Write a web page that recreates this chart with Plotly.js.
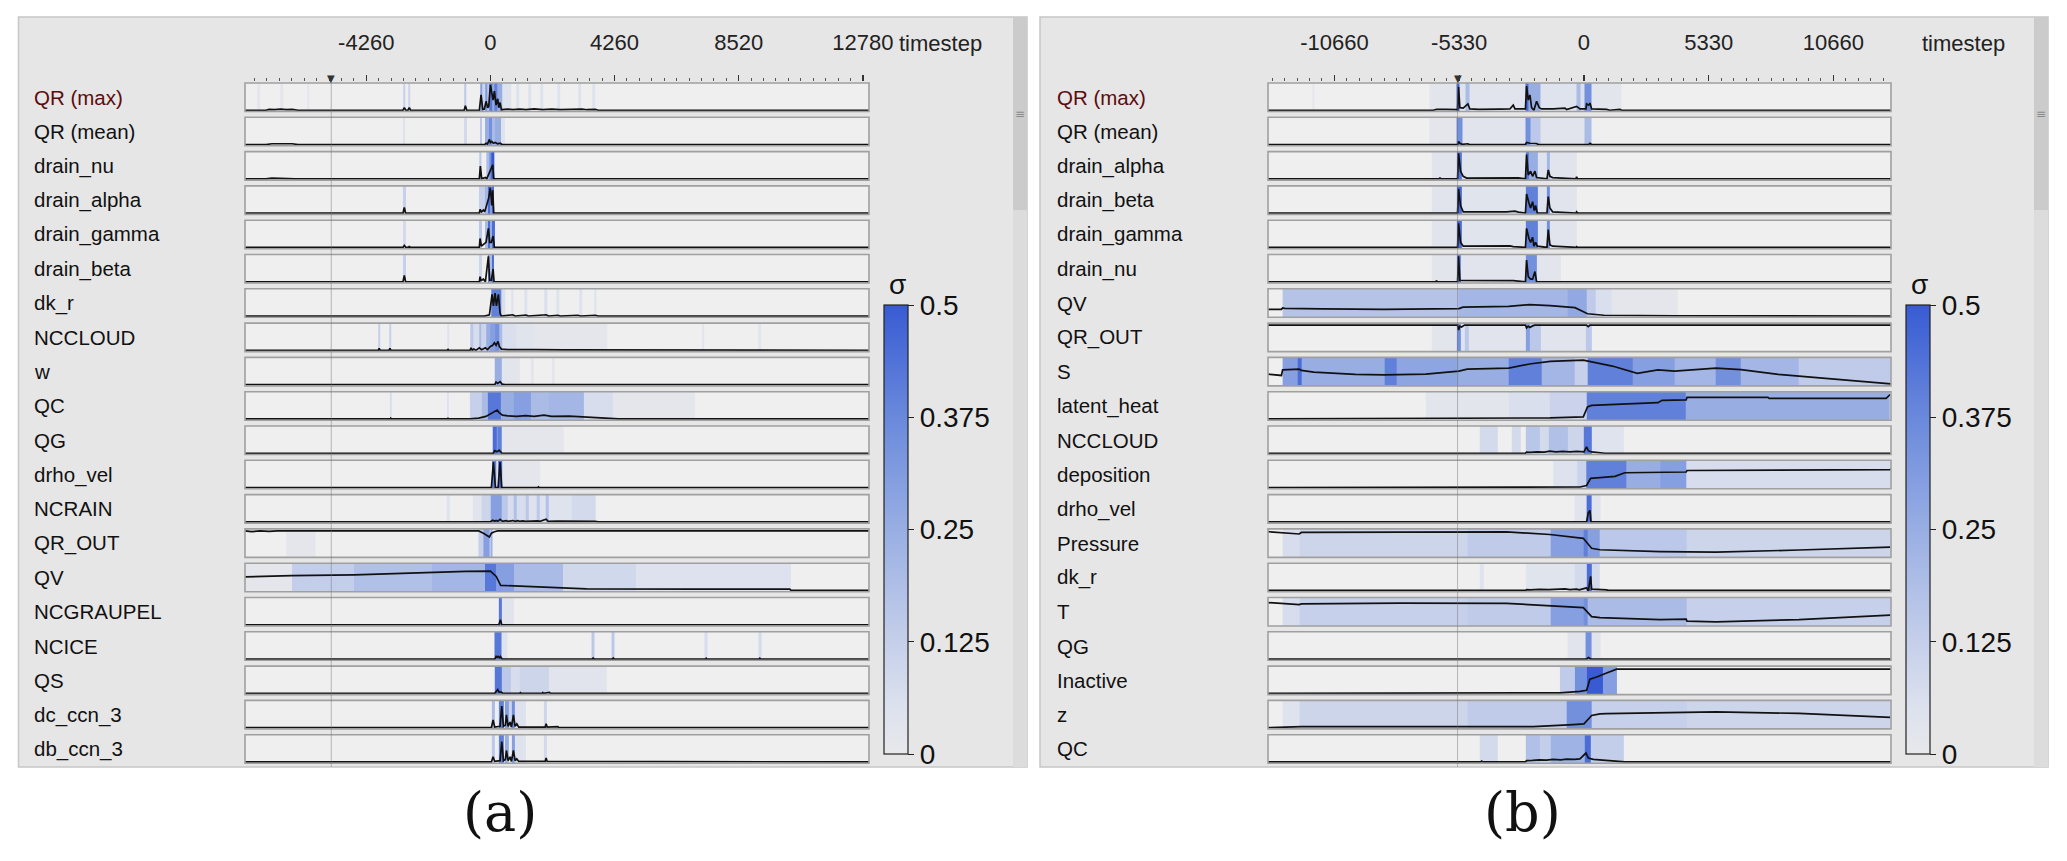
<!DOCTYPE html>
<html>
<head>
<meta charset="utf-8">
<script src="https://cdn.plot.ly/plotly-3.0.1.min.js"></script>
<style>
  html, body { margin: 0; padding: 0; background: #fff; }
  #plot { width: 2067px; height: 861px; }
</style>
</head>
<body>
<div id="plot"></div>
<script>
// ---- data ----
// row labels, top to bottom
const labelsA = ['QR (max)', 'QR (mean)', 'drain_nu', 'drain_alpha', 'drain_gamma', 'drain_beta', 'dk_r',
  'NCCLOUD', 'w', 'QC', 'QG', 'drho_vel', 'NCRAIN', 'QR_OUT', 'QV', 'NCGRAUPEL', 'NCICE', 'QS',
  'dc_ccn_3', 'db_ccn_3'];
const labelsB = ['QR (max)', 'QR (mean)', 'drain_alpha', 'drain_beta', 'drain_gamma', 'drain_nu', 'QV',
  'QR_OUT', 'S', 'latent_heat', 'NCCLOUD', 'deposition', 'drho_vel', 'Pressure', 'dk_r', 'T', 'QG',
  'Inactive', 'z', 'QC'];

// timestep axis
const ticksA = [-4260, 0, 4260, 8520, 12780];
const ticksB = [-10660, -5330, 0, 5330, 10660];
const rangeA = [-8420, 12990];
const rangeB = [-13500, 13120];
const cursorA = -5460;
const cursorB = -5400;
const sigmaTicks = [0, 0.125, 0.25, 0.375, 0.5];

// lines: [timestep, relative value 0..1] per row
const linesA = [
  // QR (max)
  [[-8420,0],[-7700,0],[-7600,0.03],[-7400,0.02],[-7200,0.04],[-7000,0.02],[-6800,0.03],[-6600,0],[-3000,0],[-2954,0.1],[-2900,0],[-2830,0],[-2782,0.1],[-2740,0],[-900,0],[-859,0.18],[-810,0],[-380,0],[-321,0.6],[-263,0.03],[-206,0.05],[-149,0.35],[-92,0.1],[-57,0.15],[0,1.0],[46,0.75],[92,0.4],[137,0.75],[195,0.2],[252,0.45],[286,0.1],[332,0.3],[378,0.02],[600,0.04],[767,0.02],[1000,0.04],[1225,0.02],[1500,0.05],[1800,0.02],[2100,0.04],[2400,0.02],[3150,0.04],[3300,0.02],[3600,0.03],[3700,0],[12990,0]],
  // QR (mean)
  [[-8420,0],[-7700,0],[-7500,0.03],[-7200,0.03],[-6800,0.03],[-6600,0],[-2960,0],[-2954,0.02],[-2900,0],[-200,0],[-149,0.05],[-100,0.02],[-34,0.2],[0,0.08],[46,0.12],[100,0.05],[160,0.08],[250,0.03],[332,0.05],[400,0],[12990,0]],
  // drain_nu
  [[-8420,0],[-7700,0],[-7500,0.03],[-7300,0.02],[-7100,0.03],[-6700,0],[-380,0],[-344,0.5],[-300,0],[-172,0.05],[-126,0],[-34,0.25],[80,0.55],[115,0],[12990,0]],
  // drain_alpha
  [[-8420,0],[-7600,0],[-7400,0.02],[-7000,0.02],[-6800,0],[-3000,0],[-2954,0.22],[-2910,0],[-380,0],[-355,0.15],[-309,0.05],[-240,0.12],[-195,0.05],[-126,0.3],[-57,0.6],[0,1.0],[46,0.3],[80,0.9],[115,0],[12990,0]],
  // drain_gamma
  [[-8420,0],[-7500,0],[-7300,0.02],[-6900,0.02],[-6700,0],[-3000,0],[-2954,0.08],[-2900,0],[-2800,0],[-2782,0.05],[-2750,0],[-380,0],[-355,0.35],[-309,0.05],[-206,0.15],[-149,0.2],[-69,0.75],[-23,0.2],[34,0.2],[92,0.45],[137,0],[12990,0]],
  // drain_beta
  [[-8420,0],[-7500,0],[-7300,0.02],[-6900,0.02],[-6700,0],[-3000,0],[-2954,0.25],[-2910,0],[-380,0],[-355,0.2],[-321,0.05],[-240,0.1],[-172,0],[-69,1.0],[-23,0.05],[34,0.05],[92,0.5],[126,0],[12990,0]],
  // dk_r
  [[-8420,0],[-200,0],[-34,0.05],[57,0.85],[103,0.4],[160,0.9],[206,0.4],[275,0.85],[332,0.1],[378,0],[767,0.05],[850,0],[1225,0.04],[1300,0],[1912,0.05],[2000,0],[2313,0.03],[2400,0],[3000,0.03],[3100,0],[3600,0.03],[3700,0],[12990,0]],
  // NCCLOUD
  [[-8420,0],[-3850,0],[-3817,0.08],[-3780,0],[-3480,0],[-3449,0.08],[-3410,0],[-1480,0],[-1456,0.05],[-1430,0],[-700,0],[-664,0.1],[-620,0],[-573,0.05],[-500,0],[-378,0.1],[-300,0.02],[-172,0.1],[-100,0.03],[0,0.15],[80,0.2],[137,0.3],[195,0.2],[263,0.35],[309,0.15],[378,0.05],[600,0.03],[1000,0.02],[1500,0.03],[2500,0.02],[4000,0.02],[4100,0],[7300,0],[7312,0.02],[7350,0],[9200,0],[9244,0.02],[9280,0],[12990,0]],
  // w
  [[-8420,0],[150,0],[195,0.1],[252,0.05],[332,0.12],[400,0.02],[500,0],[12990,0]],
  // QC
  [[-8420,0],[-3440,0],[-3419,0.03],[-3400,0],[-1470,0],[-1456,0.02],[-1440,0],[-690,0],[-400,0.03],[-153,0.1],[0,0.2],[150,0.3],[230,0.35],[300,0.25],[414,0.15],[600,0.12],[900,0.1],[1200,0.13],[1500,0.1],[1840,0.15],[2100,0.1],[2700,0.11],[3143,0.08],[3500,0.04],[4139,0.02],[4400,0],[12990,0]],
  // QG
  [[-8420,0],[100,0],[150,0.1],[230,0.06],[300,0.12],[400,0],[12990,0]],
  // drho_vel
  [[-8420,0],[34,0],[103,1.0],[172,0],[263,0],[332,1.0],[389,0],[1620,0],[1649,0.03],[1680,0],[12990,0]],
  // NCRAIN
  [[-8420,0],[-1500,0],[-1456,0.02],[-1400,0],[0,0],[80,0.06],[150,0.02],[195,0.05],[250,0.02],[332,0.1],[420,0.02],[538,0.05],[600,0.02],[767,0.05],[850,0.02],[939,0.05],[1000,0.02],[1111,0.04],[1200,0.02],[1626,0.04],[1700,0.02],[1912,0.1],[1980,0.02],[2313,0.03],[3000,0.03],[3600,0.02],[3700,0],[12990,0]],
  // QR_OUT
  [[-8420,0.99],[-8200,0.96],[-7900,0.99],[-7600,0.97],[-7300,0.99],[-6800,0.99],[-400,0.99],[-240,0.9],[-34,0.75],[34,0.9],[137,0.96],[250,0.99],[12990,0.99]],
  // QV
  [[-8420,0.53],[-6822,0.58],[-4676,0.61],[-3143,0.67],[-2070,0.7],[-843,0.75],[0,0.76],[199,0.55],[353,0.2],[1763,0.14],[3296,0.06],[7128,0.05],[10271,0.05],[10317,0.0],[12990,0]],
  // NCGRAUPEL
  [[-8420,0],[290,0],[343,0.2],[390,0],[12990,0]],
  // NCICE
  [[-8420,0],[150,0],[195,0.1],[240,0.05],[252,0.12],[310,0.05],[343,0.1],[400,0],[3500,0],[3526,0.04],[3560,0],[4190,0],[4216,0.04],[4250,0],[7380,0],[7404,0.03],[7430,0],[9220,0],[9244,0.03],[9270,0],[12990,0]],
  // QS
  [[-8420,0],[150,0],[252,0.15],[300,0.05],[378,0.05],[420,0],[1000,0],[1030,0.03],[1060,0],[1780,0],[1798,0.03],[1820,0],[2027,0.04],[2060,0],[12990,0]],
  // dc_ccn_3
  [[-8420,0],[34,0],[92,0.3],[149,0.02],[332,0.05],[389,0.85],[447,0.05],[515,0.1],[550,0.5],[607,0.05],[676,0.22],[721,0.02],[790,0.5],[847,0.05],[905,0.15],[973,0.02],[1878,0.02],[1912,0.15],[1947,0.02],[2280,0.02],[2313,0.04],[2350,0],[12990,0]],
  // db_ccn_3
  [[-8420,0],[34,0],[92,0.2],[149,0.02],[332,0.05],[389,0.8],[447,0.05],[515,0.1],[550,0.45],[607,0.05],[676,0.2],[721,0.02],[790,0.45],[847,0.05],[905,0.12],[973,0.02],[1878,0.02],[1912,0.15],[1947,0.02],[12990,0]]
];

// sigma bands: [from timestep, to timestep, sigma] per row
const sigmaA = [
  [[-8000,-7900,0.015],[-7200,-7100,0.015],[-6300,-6200,0.015],[-3000,-2920,0.12],[-2830,-2740,0.1],[-900,-820,0.15],[-360,-280,0.3],[-280,-170,0.1],[-170,-110,0.32],[-110,-30,0.15],[-30,60,0.42],[60,130,0.25],[130,220,0.4],[220,400,0.25],[400,700,0.04],[900,1000,0.05],[1300,1400,0.05],[1700,1800,0.04],[2300,2400,0.04],[3000,3100,0.05],[3500,3600,0.04]],
  [[-3000,-2920,0.05],[-900,-820,0.08],[-360,-280,0.15],[-170,-60,0.25],[-60,60,0.35],[60,150,0.2],[150,350,0.25],[350,500,0.04]],
  [[-380,-310,0.15],[-150,-30,0.2],[-30,40,0.35],[40,120,0.5]],
  [[-3000,-2910,0.12],[-380,-200,0.12],[-200,-100,0.22],[-100,-10,0.45],[-10,50,0.3],[50,120,0.45]],
  [[-3000,-2910,0.08],[-380,-300,0.15],[-200,-100,0.2],[-100,0,0.45],[0,60,0.25],[60,140,0.45]],
  [[-3000,-2910,0.12],[-380,-300,0.1],[-100,-40,0.4],[-40,60,0.2],[60,130,0.45]],
  [[30,380,0.4],[380,500,0.06],[700,800,0.05],[1150,1250,0.05],[1850,1950,0.06],[2250,2350,0.04],[3050,3150,0.05],[3550,3650,0.05]],
  [[-3850,-3780,0.12],[-3480,-3410,0.12],[-1480,-1430,0.05],[-700,-600,0.15],[-600,-380,0.07],[-380,-300,0.2],[-300,-150,0.1],[-150,0,0.25],[0,150,0.3],[150,300,0.35],[300,400,0.2],[400,900,0.06],[900,1500,0.035],[1500,4000,0.015],[7250,7350,0.025],[9200,9300,0.025]],
  [[150,380,0.25],[380,1000,0.025],[1400,1500,0.02],[2100,2200,0.02]],
  [[-3450,-3390,0.06],[-1480,-1430,0.05],[-690,-300,0.12],[-300,-100,0.2],[-100,350,0.42],[350,800,0.25],[800,1400,0.3],[1400,2000,0.2],[2000,3200,0.22],[3200,4200,0.07],[4200,7000,0.02]],
  [[80,200,0.45],[200,260,0.3],[260,400,0.4],[400,2500,0.015]],
  [[60,180,0.4],[180,260,0.05],[260,400,0.45],[400,1700,0.015]],
  [[-1500,-1400,0.04],[-600,-300,0.03],[-300,0,0.1],[0,380,0.3],[380,600,0.15],[600,800,0.07],[800,900,0.18],[900,1200,0.07],[1200,1300,0.15],[1300,1600,0.05],[1600,1700,0.15],[1700,1900,0.05],[1900,2000,0.18],[2000,2800,0.04],[2800,3600,0.08]],
  [[-7000,-6000,0.02],[-400,-250,0.12],[-250,-50,0.3],[-50,20,0.15],[20,80,0.3]],
  [[-8420,-6822,0.02],[-6822,-4676,0.13],[-4676,-2000,0.18],[-2000,-200,0.22],[-200,200,0.42],[200,800,0.3],[800,2500,0.2],[2500,5000,0.09],[5000,10300,0.05]],
  [[290,400,0.42],[400,800,0.03]],
  [[140,380,0.42],[380,600,0.04],[3480,3570,0.15],[4170,4260,0.15],[7360,7450,0.07],[9200,9290,0.08]],
  [[150,380,0.42],[380,700,0.15],[700,1000,0.07],[1000,2000,0.1],[2000,4000,0.03]],
  [[50,140,0.2],[300,450,0.4],[500,620,0.3],[620,740,0.1],[740,850,0.35],[850,1200,0.05],[1850,1950,0.1]],
  [[50,140,0.15],[300,450,0.4],[500,620,0.25],[740,850,0.3],[850,1200,0.04],[1850,1950,0.08]]
];

const linesB = [
  // QR (max)
  [[-13500,0],[-6441,0],[-6300,0.03],[-6100,0.02],[-5900,0.03],[-5400,0.02],[-5358,0.92],[-5301,0.1],[-5159,0.08],[-4959,0.25],[-4874,0.05],[-4500,0.03],[-4000,0.05],[-3600,0.04],[-3164,0.05],[-3021,0.2],[-2950,0.05],[-2500,0.05],[-2451,0.95],[-2380,0.4],[-2309,0.6],[-2237,0.1],[-2138,0.0],[-2024,0.35],[-1910,0.1],[-1810,0.05],[-1311,0.05],[-812,0.08],[-741,0.03],[-314,0.15],[-171,0.05],[86,0.05],[114,0.25],[200,0.2],[257,0.28],[328,0.05],[969,0.03],[1100,0.0],[1539,0.03],[1611,0],[13120,0]],
  // QR (mean)
  [[-13500,0],[-5400,0],[-5358,0.12],[-5301,0.05],[-5200,0.01],[-4959,0.03],[-4900,0],[-2500,0],[-2451,0.08],[-2309,0.05],[-2024,0.04],[-1950,0],[200,0],[257,0.05],[328,0],[13120,0]],
  // drain_alpha
  [[-13500,0],[-6200,0],[-6156,0.03],[-6100,0],[-5400,0],[-5358,1.0],[-5273,0.3],[-5159,0.1],[-5016,0.03],[-3734,0.03],[-3164,0.04],[-2807,0.04],[-2500,0],[-2451,0.95],[-2380,0.15],[-2280,0.3],[-2195,0.1],[-2095,0.3],[-2024,0.05],[-1580,0],[-1525,0.35],[-1454,0.1],[-1340,0.05],[-340,0],[-314,0.08],[-271,0],[13120,0]],
  // drain_beta
  [[-13500,0],[-6200,0],[-6156,0.02],[-6100,0],[-5400,0],[-5358,0.95],[-5273,0.3],[-5159,0.05],[-3306,0.05],[-2950,0.08],[-2807,0.04],[-2500,0],[-2451,0.75],[-2351,0.4],[-2280,0.2],[-2195,0.45],[-2123,0.1],[-2066,0.3],[-1995,0],[-1580,0],[-1525,0.65],[-1454,0.2],[-1340,0.05],[-340,0],[-314,0.05],[-271,0],[13120,0]],
  // drain_gamma
  [[-13500,0],[-5400,0],[-5358,0.95],[-5273,0.2],[-5159,0.05],[-3876,0.05],[-3591,0.06],[-3377,0.06],[-3164,0.06],[-3021,0.03],[-2500,0],[-2451,0.75],[-2351,0.35],[-2280,0.2],[-2195,0.4],[-2138,0.05],[-2066,0.2],[-1995,0.05],[-1580,0],[-1525,0.7],[-1454,0.1],[-1340,0.05],[-340,0],[-314,0.03],[-271,0],[13120,0]],
  // drain_nu
  [[-13500,0],[-6350,0],[-6299,0.03],[-6250,0],[-5400,0],[-5358,1.0],[-5301,0.05],[-3734,0.05],[-3306,0.05],[-3021,0.04],[-2500,0],[-2451,0.85],[-2380,0.2],[-2280,0.1],[-2195,0.1],[-2095,0.4],[-2024,0],[-1026,0.02],[-950,0],[13120,0]],
  // QV
  [[-13500,0.26],[-12928,0.26],[-12875,0.32],[-12785,0.3],[-11190,0.28],[-8533,0.26],[-5343,0.29],[-5166,0.35],[-3216,0.38],[-2330,0.45],[-1444,0.41],[-381,0.33],[151,0.09],[859,0.03],[3872,0.01],[13120,0.0]],
  // QR_OUT
  [[-13500,0.99],[-5400,0.99],[-5358,0.8],[-5301,0.95],[-5230,0.92],[-5100,0.99],[-2500,0.99],[-2451,0.88],[-2380,0.95],[-2309,0.9],[-2195,0.96],[-2100,0.99],[100,0.99],[185,0.93],[257,0.99],[13120,0.99]],
  // S
  [[-13500,0.41],[-12928,0.36],[-12875,0.58],[-12165,0.61],[-12076,0.56],[-11545,0.49],[-9773,0.4],[-8533,0.38],[-6760,0.41],[-5343,0.53],[-4988,0.61],[-3216,0.65],[-2330,0.81],[-1444,0.91],[-27,0.96],[151,0.93],[1214,0.73],[2277,0.44],[3163,0.58],[3872,0.53],[5644,0.65],[6708,0.59],[8303,0.4],[10961,0.2],[13087,0.02],[13120,0.03]],
  // latent_heat
  [[-13500,0],[-1444,0.04],[-27,0.08],[151,0.47],[328,0.53],[1745,0.59],[3163,0.64],[3340,0.73],[4368,0.75],[4403,0.85],[7860,0.85],[7913,0.81],[12910,0.81],[13087,0.96]],
  // NCCLOUD
  [[-13500,0],[-4400,0],[-4375,0.02],[-4300,0],[-3800,0],[-3734,0.02],[-3700,0],[-2500,0],[-2451,0.04],[-2300,0.03],[-2000,0.05],[-1700,0.04],[-1454,0.08],[-1200,0.05],[-900,0.07],[-600,0.05],[-300,0.07],[0,0.05],[114,0.25],[185,0.1],[328,0.05],[684,0.02],[900,0],[13120,0]],
  // deposition
  [[-13500,0],[-171,0.02],[114,0.08],[285,0.36],[684,0.39],[1325,0.44],[1745,0.58],[3249,0.6],[4368,0.61],[4403,0.67],[13087,0.7],[13120,0.73]],
  // drho_vel
  [[-13500,0],[-2500,0],[-2451,0.02],[-2400,0],[-1900,0],[-1881,0.02],[-1850,0],[114,0],[185,0.35],[257,0.45],[299,0],[13120,0]],
  // Pressure
  [[-13500,0.96],[-12165,0.87],[-12076,0.93],[-7866,0.95],[-3306,0.95],[-1453,0.85],[-28,0.7],[328,0.31],[684,0.25],[3249,0.18],[4403,0.16],[5644,0.16],[9189,0.24],[13087,0.35]],
  // dk_r
  [[-13500,0],[-4400,0],[-4375,0.02],[-4300,0],[-2500,0],[-2451,0.03],[-2300,0.02],[-1900,0.04],[-1500,0.03],[-812,0.06],[-600,0.03],[-314,0.05],[-200,0.02],[114,0.1],[185,-0.03],[285,0.55],[328,0.05],[969,0.02],[1050,0],[13120,0]],
  // T
  [[-13500,0.87],[-12165,0.79],[-12076,0.82],[-7866,0.85],[-3306,0.84],[-1453,0.76],[-28,0.67],[328,0.32],[684,0.28],[3249,0.2],[4368,0.22],[4403,0.14],[5644,0.11],[9189,0.2],[13087,0.38]],
  // QG
  [[-13500,0],[114,0],[185,0.06],[257,0.02],[300,0],[13120,0]],
  // Inactive
  [[-13500,0],[-1026,0.02],[-171,0.08],[114,0.12],[257,0.56],[542,0.64],[969,0.8],[1397,0.95],[13120,0.95]],
  // z
  [[-13500,0],[-12165,0.02],[-12076,0.04],[-7866,0.04],[-2166,0.04],[-456,0.12],[0,0.15],[328,0.48],[682,0.54],[969,0.55],[3872,0.6],[5644,0.62],[9189,0.56],[13087,0.4]],
  // QC
  [[-13500,0],[-4400,0],[-4375,0.03],[-4300,0],[-2500,0],[-2451,0.05],[-2200,0.06],[-1900,0.08],[-1600,0.07],[-1311,0.1],[-1000,0.08],[-741,0.11],[-400,0.1],[-171,0.12],[86,0.35],[185,0.15],[399,0.1],[1112,0.05],[1611,0.02],[1750,0],[13120,0]]
];

const sigmaB = [
  [[-11600,-11500,0.015],[-6600,-5450,0.025],[-5450,-5300,0.45],[-5300,-5050,0.04],[-5050,-4900,0.2],[-4900,-2500,0.03],[-2500,-2350,0.45],[-2350,-1850,0.25],[-1850,-300,0.04],[-300,-150,0.2],[-150,40,0.06],[40,330,0.35],[330,1600,0.025]],
  [[-6600,-5450,0.02],[-5450,-5200,0.35],[-5200,-2500,0.03],[-2500,-2300,0.35],[-2300,-1850,0.15],[-1850,40,0.03],[40,330,0.2]],
  [[-6500,-5450,0.03],[-5450,-5200,0.42],[-5200,-2500,0.035],[-2500,-2340,0.42],[-2340,-1990,0.25],[-1990,-1570,0.04],[-1570,-1470,0.22],[-1470,-300,0.03]],
  [[-6500,-5450,0.03],[-5450,-5200,0.45],[-5200,-2500,0.035],[-2500,-1990,0.4],[-1990,-1570,0.04],[-1570,-1450,0.35],[-1450,-300,0.03]],
  [[-6500,-5450,0.03],[-5450,-5200,0.45],[-5200,-2500,0.035],[-2500,-1990,0.4],[-1990,-1570,0.04],[-1570,-1450,0.35],[-1450,-300,0.03]],
  [[-6500,-5450,0.025],[-5450,-5250,0.4],[-5250,-2500,0.03],[-2500,-2000,0.35],[-2000,-1000,0.025]],
  [[-12875,-5343,0.17],[-5343,-700,0.22],[-700,100,0.27],[100,500,0.14],[500,1200,0.06],[1200,4000,0.02]],
  [[-6500,-5450,0.025],[-5450,-5250,0.35],[-5250,-5100,0.04],[-5100,-4900,0.15],[-4900,-2500,0.03],[-2500,-2300,0.3],[-2300,-1850,0.15],[-1850,100,0.03],[100,330,0.15]],
  [[-12875,-12253,0.3],[-12253,-12076,0.45],[-12076,-8533,0.25],[-8533,-8001,0.4],[-8001,-5343,0.28],[-5343,-3216,0.25],[-3216,-1798,0.4],[-1798,-381,0.22],[-381,151,0.12],[151,2100,0.4],[2100,3872,0.3],[3872,5644,0.22],[5644,6708,0.35],[6708,9189,0.22],[9189,13087,0.14]],
  [[-6760,-3216,0.025],[-3216,-1444,0.06],[-1444,100,0.11],[100,4368,0.4],[4368,13087,0.25]],
  [[-4450,-3700,0.08],[-3100,-2700,0.08],[-2500,-1900,0.16],[-1900,-1500,0.08],[-1500,-700,0.18],[-700,0,0.1],[0,330,0.42],[330,1700,0.04]],
  [[-1311,-300,0.05],[-300,114,0.11],[114,1824,0.4],[1824,3252,0.25],[3252,4368,0.3],[4368,13087,0.07]],
  [[-400,100,0.03],[130,330,0.45],[330,700,0.03]],
  [[-12875,-12165,0.07],[-12165,-4988,0.1],[-4988,-1444,0.14],[-1444,-27,0.3],[-27,151,0.4],[151,682,0.3],[682,4368,0.15],[4368,13087,0.1]],
  [[-4450,-4300,0.04],[-2500,-400,0.035],[-400,114,0.08],[114,330,0.45],[330,684,0.08]],
  [[-12875,-12165,0.07],[-12165,-4988,0.12],[-4988,-1444,0.14],[-1444,-27,0.3],[-27,151,0.35],[151,4368,0.2],[4368,13087,0.12]],
  [[-700,86,0.03],[86,330,0.35],[330,700,0.03]],
  [[-1026,-385,0.14],[-385,114,0.35],[114,827,0.5],[827,1397,0.3]],
  [[-12875,-12165,0.04],[-12165,-4988,0.1],[-4988,-735,0.14],[-735,328,0.35],[328,4368,0.12],[4368,13087,0.1]],
  [[-4450,-3700,0.08],[-2500,-1900,0.18],[-1900,-1400,0.13],[-1400,43,0.23],[43,285,0.45],[285,1700,0.13]]
];

// ---- page geometry ----
const W = 2067, H = 861;
const px = x => x / W;
const py = y => 1 - y / H;
const ROW0 = 83, PITCH = 34.3, ROWH = 28.5;
const FONT = 'Liberation Sans, Arial, sans-serif';

const sigmaScale = [[0, '#e8e8eb'], [0.1, '#dde2ee'], [0.25, '#c5cfea'], [0.5, '#98aee3'],
  [0.75, '#6a89dc'], [1, '#385bd3']];

// turn bands into heatmap edges + values, null for gaps
function bandsToHeat(bands) {
  const x = [], z = [];
  bands.forEach(([s, e, v]) => {
    if (!x.length) x.push(s);
    else if (x[x.length - 1] < s) { z.push(null); x.push(s); }
    z.push(v);
    x.push(e);
  });
  return {x, z};
}

const panels = [
  {labels: labelsA, lines: linesA, sigma: sigmaA, xref: 'x', xname: 'xaxis', ca: 'coloraxis',
   box: [18.5, 1027], strip: [245, 869], labelX: 32, cbX: 884, range: rangeA, ticks: ticksA,
   minor: 426, cursor: cursorA, stepX: 940, caption: '(a)', capX: 500},
  {labels: labelsB, lines: linesB, sigma: sigmaB, xref: 'x2', xname: 'xaxis2', ca: 'coloraxis2',
   box: [1040, 2048], strip: [1268, 1891], labelX: 1055, cbX: 1906, range: rangeB, ticks: ticksB,
   minor: 533, cursor: cursorB, stepX: 1963, caption: '(b)', capX: 1522}
];

const traces = [];
const shapes = [];
const annotations = [];
const layout = {
  width: W, height: H,
  margin: {l: 0, r: 0, t: 0, b: 0},
  paper_bgcolor: '#ffffff',
  plot_bgcolor: 'rgba(0,0,0,0)',
  showlegend: false,
  font: {family: FONT, color: '#222'}
};

function note(x, y, text, font, xanchor) {
  annotations.push({xref: 'paper', yref: 'paper', x: px(x), y: py(y), text: text,
    xanchor: xanchor || 'center', yanchor: 'middle', showarrow: false, font: font});
}

panels.forEach((p, k) => {
  const [bx0, bx1] = p.box;
  // panel box and scrollbar
  shapes.push({type: 'rect', xref: 'paper', yref: 'paper', layer: 'below',
    x0: px(bx0), x1: px(bx1), y0: py(767), y1: py(17),
    fillcolor: '#e6e6e6', line: {color: '#c6c6c6', width: 1.5}});
  shapes.push({type: 'rect', xref: 'paper', yref: 'paper', layer: 'below',
    x0: px(bx1 - 14), x1: px(bx1), y0: py(767), y1: py(17),
    fillcolor: '#dcdcdc', line: {width: 0}});
  shapes.push({type: 'rect', xref: 'paper', yref: 'paper', layer: 'below',
    x0: px(bx1 - 14), x1: px(bx1), y0: py(210), y1: py(17),
    fillcolor: '#cbcbcb', line: {width: 0}});
  note(bx1 - 7, 114, '≡', {size: 12, color: '#8a8a8a', family: 'DejaVu Sans'});

  // shared timestep axis on top
  layout[p.xname] = {
    domain: [px(p.strip[0]), px(p.strip[1])],
    range: p.range, anchor: 'free', position: py(81), side: 'top',
    showline: false, showgrid: false, zeroline: false, fixedrange: true,
    tickmode: 'array', tickvals: p.ticks, ticktext: p.ticks.map(String),
    ticks: 'outside', ticklen: 6, tickwidth: 1.3, tickcolor: '#333',
    ticklabelstandoff: 16,
    tickfont: {size: 22, color: '#222', family: FONT},
    minor: {tickmode: 'linear', tick0: 0, dtick: p.minor, ticks: 'outside', ticklen: 3,
            tickwidth: 1, tickcolor: '#555', showgrid: false}
  };
  note(p.stepX, 43, 'timestep', {size: 22, color: '#222'});

  p.labels.forEach((lab, i) => {
    const n = k * 20 + i + 1;
    const yname = n === 1 ? 'yaxis' : 'yaxis' + n;
    const yref = n === 1 ? 'y' : 'y' + n;
    const top = ROW0 + PITCH * i, bot = top + ROWH;
    layout[yname] = {domain: [py(bot), py(top)], range: [-0.05, 1.07], visible: false,
      fixedrange: true, anchor: p.xref};

    shapes.push({type: 'rect', xref: 'paper', yref: 'paper', layer: 'below',
      x0: px(p.strip[0]), x1: px(p.strip[1]), y0: py(bot), y1: py(top),
      fillcolor: '#efefef', line: {width: 0}});
    shapes.push({type: 'rect', xref: 'paper', yref: 'paper', layer: 'above',
      x0: px(p.strip[0]), x1: px(p.strip[1]), y0: py(bot), y1: py(top),
      fillcolor: 'rgba(0,0,0,0)', line: {color: '#a0a0a0', width: 1.6}});

    const h = bandsToHeat(p.sigma[i]);
    if (h.z.length) {
      traces.push({type: 'heatmap', x: h.x, y: [-0.05, 1.07], z: [h.z],
        coloraxis: p.ca, xaxis: p.xref, yaxis: yref, zsmooth: false, hoverinfo: 'skip'});
    }
    traces.push({type: 'scatter', mode: 'lines',
      x: p.lines[i].map(d => d[0]), y: p.lines[i].map(d => d[1]),
      xaxis: p.xref, yaxis: yref, hoverinfo: 'skip',
      line: {color: '#111', width: 1.7}});

    note(p.labelX, top + ROWH / 2, lab, {size: 20.5, color: i === 0 ? '#5c0c0c' : '#111'}, 'left');
  });

  // cursor marker
  shapes.push({type: 'line', xref: p.xref, yref: 'paper', layer: 'above',
    x0: p.cursor, x1: p.cursor, y0: py(767), y1: py(83),
    line: {color: 'rgba(110,110,110,0.45)', width: 1}});
  annotations.push({xref: p.xref, yref: 'paper', x: p.cursor, y: py(78), text: '▼',
    showarrow: false, xanchor: 'center', yanchor: 'middle',
    font: {size: 10, color: '#333', family: 'DejaVu Sans'}});

  // colour bar for sigma
  layout[p.ca] = {
    cmin: 0, cmax: 0.5, colorscale: sigmaScale,
    colorbar: {
      x: px(p.cbX), xanchor: 'left', xpad: 0,
      y: py(305), yanchor: 'top', ypad: 0,
      len: (754 - 305) / H, lenmode: 'fraction',
      thickness: 24, thicknessmode: 'pixels',
      outlinewidth: 1.2, outlinecolor: '#222',
      ticks: 'outside', ticklen: 6, tickcolor: '#222',
      tickmode: 'array', tickvals: sigmaTicks, ticktext: sigmaTicks.map(String),
      tickfont: {size: 28, color: '#111', family: FONT}
    }
  };
  note(p.cbX + 13, 285, 'σ', {size: 28, color: '#111'});

  // caption
  note(p.capX, 812, p.caption, {size: 54, color: '#111', family: 'DejaVu Serif'});
});

layout.shapes = shapes;
layout.annotations = annotations;

Plotly.newPlot('plot', traces, layout, {staticPlot: true, displayModeBar: false});
</script>
</body>
</html>
